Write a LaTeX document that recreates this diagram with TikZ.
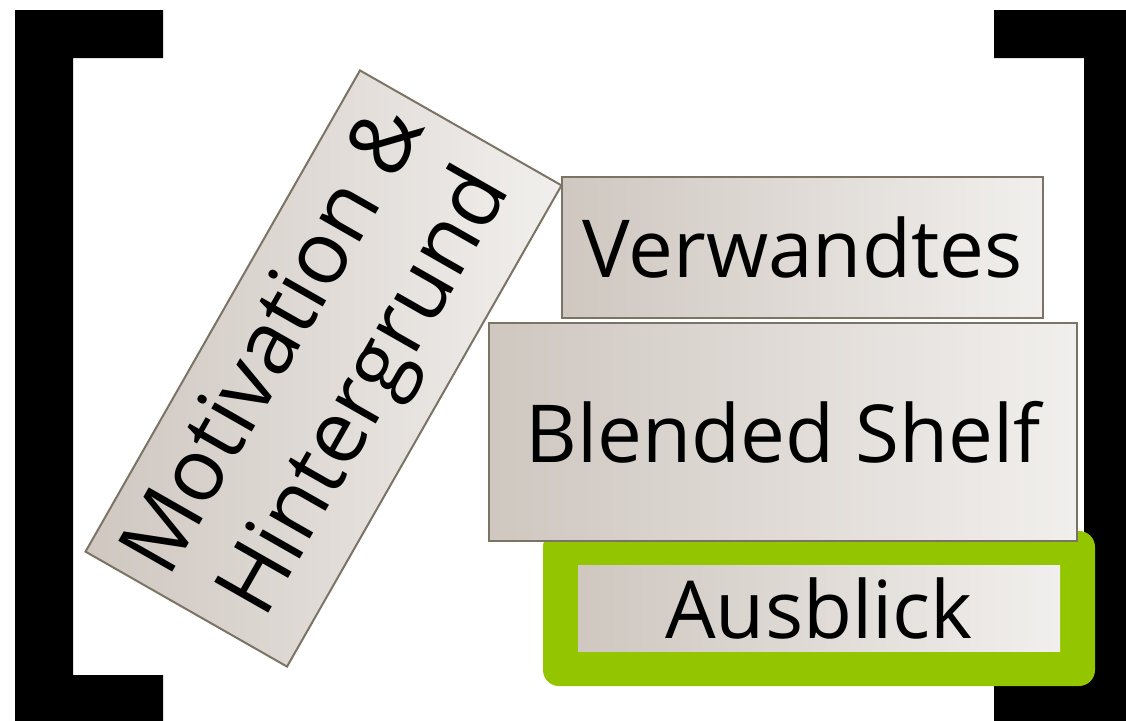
\documentclass[tikz,border=0pt]{standalone}
\usepackage{fontspec}
\setmainfont{Open Sans}
\usetikzlibrary{positioning}

\definecolor{boxline}{HTML}{7B7363}
\definecolor{boxdark}{HTML}{CFC7C0}
\definecolor{boxlight}{HTML}{F1EFED}
\definecolor{framegreen}{HTML}{94C600}

\tikzset{
	part/.style={draw=boxline, line width=2pt, left color=boxdark, right color=boxlight,
		inner sep=0pt, outer sep=0pt, align=center, font=\fontsize{80}{100}\selectfont},
	partplain/.style={part, draw=none},
}

\begin{document}
\begin{tikzpicture}[x=1pt,y=-1pt]
		\clip (0,0) rectangle (1126,720);
		% Left and right brackets
		\fill[black] (15,10) -- (163,10) -- (163,58) -- (73,58) -- (73,675) -- (163,675) -- (163,730) -- (15,730) -- cycle;
		\fill[black] (994,10) -- (1130,10) -- (1130,730) -- (994,730) -- (994,675) -- (1084,675) -- (1084,58) -- (994,58) -- cycle;
		
		% Tilted first part
		\node[part, minimum width=554pt, minimum height=232pt, rotate=60.3, font=\fontsize{87}{104}\selectfont] (motiv) at (323.5,368.5) {Motivation \&\\Hintergrund};
		
		% Stacked parts on the right
		\node[part, minimum width=481pt, minimum height=141pt] (verw) at (802.5,247.5) {Verwandtes};
		\fill[framegreen, rounded corners=16pt] (543,531) rectangle (1095,686);% Highlight of the current part
		\node[partplain, minimum width=482pt, minimum height=86pt] (ausblick) at (819,608) {Ausblick};
		\node[part, minimum width=588pt, minimum height=218pt] (blended) at (783,432) {Blended Shelf};
	\end{tikzpicture}
\end{document}
